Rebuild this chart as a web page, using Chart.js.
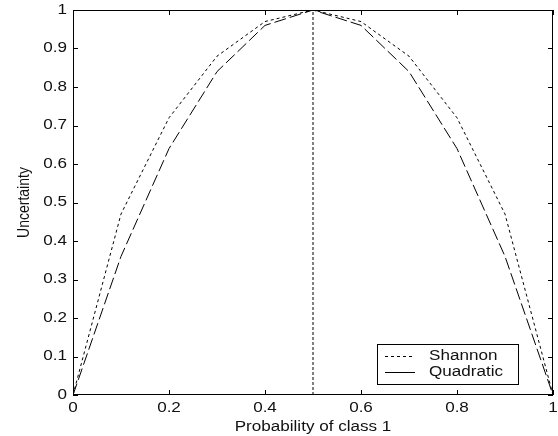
<!DOCTYPE html>
<html>
<head>
<meta charset="utf-8">
<script src="https://cdn.jsdelivr.net/npm/chart.js@4/dist/chart.umd.min.js"></script>
<style>
  html, body { margin: 0; padding: 0; background: #fff; }
  #wrap { width: 558px; height: 436px; }
</style>
</head>
<body>
<div id="wrap"><canvas id="myChart" width="558" height="436"></canvas></div>
<script>

// probability of class 1
let probs = [0, 0.1, 0.2, 0.3, 0.4, 0.5, 0.6, 0.7, 0.8, 0.9, 1]

let shannon   = [0, 0.47, 0.72, 0.88, 0.97, 1, 0.97, 0.88, 0.72, 0.47, 0]
let quadratic = [0, 0.36, 0.64, 0.84, 0.96, 1, 0.96, 0.84, 0.64, 0.36, 0]

let midX = [0.5, 0.5]
let midY = [0, 1]

let xTicks = [0, 0.2, 0.4, 0.6, 0.8, 1]
let yTicks = [0, 0.1, 0.2, 0.3, 0.4, 0.5, 0.6, 0.7, 0.8, 0.9, 1]

let xTitle = 'Probability of class 1'
let yTitle = 'Uncertainty'

let legendItems = [
  { label: 'Shannon', dash: [3, 3] },
  { label: 'Quadratic', dash: [] }
]

const FONT = '14px "Liberation Sans", Arial, sans-serif'
const STRETCH = 1.22   // the picture's text is a bit wide

function pts(xs, ys){
  return xs.map((x, i) => ({ x: x, y: ys[i] }))
}

function wideText(ctx, txt, x, y, align, rot){
  ctx.save()
  ctx.translate(x, y)
  ctx.scale(STRETCH, 1)
  if (rot) ctx.rotate(rot)
  ctx.textAlign = align
  ctx.fillText(txt, 0, 0)
  ctx.restore()
}

function fmt(v){
  return String(Math.round(v * 10) / 10)
}

// frame with inward ticks, labels, titles and legend
const boxPlugin = {
  id: 'box',
  afterDatasetsDraw(chart){
    const ctx = chart.ctx
    const a = chart.chartArea
    const xs = chart.scales.x
    const ys = chart.scales.y
    const len = 5
    ctx.save()
    ctx.strokeStyle = '#000'
    ctx.lineWidth = 1
    ctx.setLineDash([])
    ctx.strokeRect(a.left + 0.5, a.top + 0.5, a.right - a.left - 1, a.bottom - a.top - 1)
    ctx.beginPath()
    xTicks.forEach(v => {
      const px = Math.round(xs.getPixelForValue(v)) + 0.5
      ctx.moveTo(px, a.bottom); ctx.lineTo(px, a.bottom - len)
      ctx.moveTo(px, a.top); ctx.lineTo(px, a.top + len)
    })
    yTicks.forEach(v => {
      const py = Math.round(ys.getPixelForValue(v)) + 0.5
      ctx.moveTo(a.left, py); ctx.lineTo(a.left + len, py)
      ctx.moveTo(a.right, py); ctx.lineTo(a.right - len, py)
    })
    ctx.stroke()

    // tick labels
    ctx.font = FONT
    ctx.fillStyle = '#111'
    ctx.textBaseline = 'middle'
    xTicks.forEach(v => {
      wideText(ctx, fmt(v), xs.getPixelForValue(v), a.bottom + 13, 'center')
    })
    yTicks.forEach(v => {
      wideText(ctx, fmt(v), a.left - 6, ys.getPixelForValue(v), 'right')
    })

    // axis titles
    wideText(ctx, xTitle, (a.left + a.right) / 2, a.bottom + 32, 'center')
    wideText(ctx, yTitle, 24, (a.top + a.bottom) / 2, 'center', -Math.PI / 2)

    // legend box, bottom right
    const bx = 377, by = 344, bw = 141, bh = 40
    ctx.fillStyle = '#fff'
    ctx.fillRect(bx, by, bw, bh)
    ctx.strokeRect(bx + 0.5, by + 0.5, bw, bh)
    ctx.fillStyle = '#111'
    legendItems.forEach((it, i) => {
      const y = by + 12 + i * 16 + 0.5
      ctx.beginPath()
      ctx.setLineDash(it.dash)
      ctx.moveTo(bx + 8, y); ctx.lineTo(bx + 38, y)
      ctx.stroke()
      ctx.setLineDash([])
      wideText(ctx, it.label, bx + 52, y, 'left')
    })
    ctx.restore()
  }
}

let dsets = [
  {
    label: 'Shannon',
    data: pts(probs, shannon),
    borderColor: '#000',
    borderWidth: 1,
    borderDash: [3, 3],
    pointRadius: 0,
    fill: false
  },
  {
    label: 'Quadratic',
    data: pts(probs, quadratic),
    borderColor: '#000',
    borderWidth: 1,
    borderDash: [12, 4],
    pointRadius: 0,
    fill: false
  },
  {
    label: 'mid',
    data: pts(midX, midY),
    borderColor: '#000',
    borderWidth: 1,
    borderDash: [3, 2],
    pointRadius: 0,
    fill: false
  }
]

new Chart(
  document.getElementById('myChart'),
  {
    type: 'line',
    data: { datasets: dsets },
    options: {
      responsive: false,
      animation: false,
      layout: { padding: { left: 0, top: 10, right: 5, bottom: 0 } },
      plugins: {
        legend: { display: false },
        tooltip: { enabled: false },
        title: { display: false }
      },
      scales: {
        x: {
          type: 'linear',
          min: 0,
          max: 1,
          afterFit: s => { s.height = 41 },
          grid: { display: false, drawTicks: false },
          border: { display: false },
          ticks: { display: false }
        },
        y: {
          type: 'linear',
          min: 0,
          max: 1,
          afterFit: s => { s.width = 73 },
          grid: { display: false, drawTicks: false },
          border: { display: false },
          ticks: { display: false }
        }
      }
    },
    plugins: [boxPlugin]
  }
)

</script>
</body>
</html>
